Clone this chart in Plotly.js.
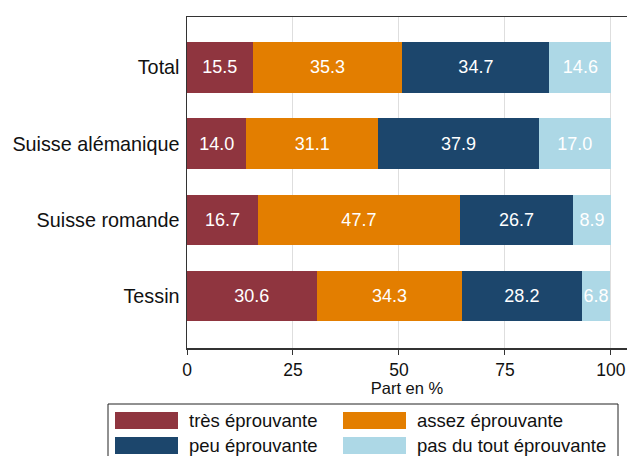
<!DOCTYPE html>
<html>
<head>
<meta charset="utf-8">
<script src="https://cdn.plot.ly/plotly-3.0.1.min.js"></script>
<style>
  html, body { margin: 0; padding: 0; background: #fff; }
  #plot { width: 627px; height: 456px; }
</style>
</head>
<body>
<div id="plot"></div>
<script>
// régions (de haut en bas)
const regions = ['Total', 'Suisse alémanique', 'Suisse romande', 'Tessin'];

// catégories de réponse
const categories = ['très éprouvante', 'assez éprouvante', 'peu éprouvante', 'pas du tout éprouvante'];
const colors = ['#8F353F', '#E37E00', '#1C466C', '#ADD8E6'];

// parts en %
const tres = [15.5, 14.0, 16.7, 30.6];
const assez = [35.3, 31.1, 47.7, 34.3];
const peu = [34.7, 37.9, 26.7, 28.2];
const pasDuTout = [14.6, 17.0, 8.9, 6.8];

const xTicks = [0, 25, 50, 75, 100];

const series = [tres, assez, peu, pasDuTout];
const font = 'Liberation Sans, Arial, sans-serif';

const traces = series.map((vals, i) => ({
    type: 'bar',
    orientation: 'h',
    name: categories[i],
    y: regions,
    x: vals,
    width: 0.66,
    marker: { color: colors[i], line: { width: 0 } },
    text: vals.map(v => v.toFixed(1)),
    textposition: 'inside',
    insidetextanchor: 'middle',
    textangle: 0,
    constraintext: 'none',
    cliponaxis: false,
    textfont: { color: '#fff', size: 18, family: font },
    hoverinfo: 'x+name',
    showlegend: false
}));

// légende dessinée à la main (cases larges comme dans l'original)
const px = 440, py = 331; // taille de la zone du graphique
const shapes = [{
    type: 'rect', xref: 'paper', yref: 'paper',
    x0: (108 - 187) / px, x1: (618 - 187) / px,
    y0: -(462 - 17 - py) / py, y1: -(404 - 17 - py) / py,
    line: { color: '#222', width: 1 }, fillcolor: 'rgba(0,0,0,0)'
}];
const annotations = [];
categories.forEach((c, i) => {
    const col = i % 2, row = Math.floor(i / 2);
    const sx0 = (col === 0 ? 115 : 343) - 187;
    const sy0 = 412 + row * 25 - 17;
    shapes.push({
        type: 'rect', xref: 'paper', yref: 'paper',
        x0: sx0 / px, x1: (sx0 + 63) / px,
        y0: 1 - (sy0 + 17) / py, y1: 1 - sy0 / py,
        fillcolor: colors[i], line: { width: 0 }
    });
    annotations.push({
        xref: 'paper', yref: 'paper',
        x: (sx0 + 72) / px, y: 1 - (sy0 + 8.5) / py,
        xanchor: 'left', yanchor: 'middle',
        text: c, showarrow: false,
        font: { size: 18.5, color: '#111', family: font }
    });
});

const layout = {
    width: 627,
    height: 456,
    margin: { l: 187, r: 0, t: 17, b: 108 },
    barmode: 'stack',
    paper_bgcolor: '#fff',
    plot_bgcolor: '#fff',
    font: { family: font, color: '#111' },
    xaxis: {
        range: [0, 103.8],
        tickvals: xTicks,
        ticktext: xTicks.map(String),
        ticks: 'outside',
        ticklen: 5,
        tickcolor: '#333',
        tickfont: { size: 17.5 },
        showgrid: true,
        gridcolor: '#dedede',
        gridwidth: 1,
        zeroline: false,
        showline: true,
        linecolor: '#333',
        linewidth: 1.5,
        mirror: true,
        title: { text: 'Part en %', font: { size: 16.5 }, standoff: 0 }
    },
    yaxis: {
        autorange: false,
        range: [3.68, -0.66],
        type: 'category',
        ticks: '',
        ticklen: 0,
        ticklabelstandoff: 2,
        tickfont: { size: 19.8 },
        showgrid: false,
        zeroline: false,
        showline: true,
        linecolor: '#333',
        linewidth: 1.5
    },
    shapes: shapes,
    annotations: annotations,
    showlegend: false
};

Plotly.newPlot('plot', traces, layout, { displayModeBar: false, staticPlot: true });
</script>
</body>
</html>
